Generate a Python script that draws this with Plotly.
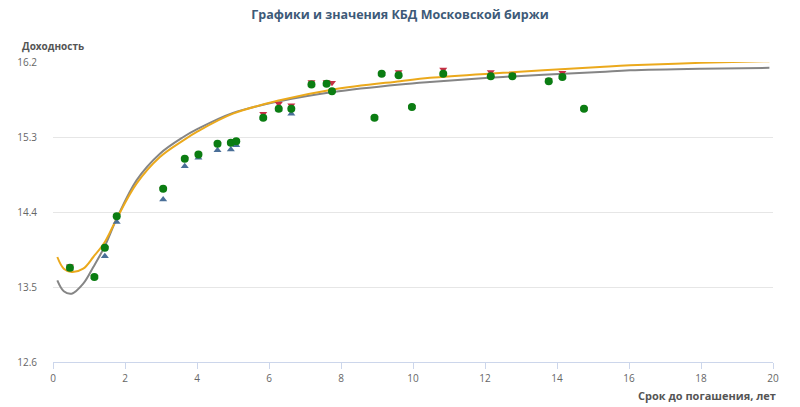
import plotly.graph_objects as go

# bond points: term (years) and yields for three price types
bond_term = [0.47, 1.15, 1.44, 1.77, 3.06, 3.66, 4.04, 4.57, 4.94, 5.09,
             5.84, 6.27, 6.62, 7.18, 7.60, 7.75, 8.93, 9.13, 9.60, 9.97,
             10.84, 12.16, 12.76, 13.77, 14.15, 14.75]
yield_green = [13.73, 13.62, 13.97, 14.35, 14.68, 15.04, 15.09, 15.22, 15.23, 15.25,
               15.53, 15.64, 15.64, 15.93, 15.94, 15.85, 15.53, 16.06, 16.04, 15.66,
               16.06, 16.03, 16.03, 15.97, 16.02, 15.64]
yield_red = [13.75, 13.62, 13.97, 14.35, 14.68, 15.04, 15.09, 15.22, 15.23, 15.25,
             15.58, 15.70, 15.68, 15.96, 15.96, 15.95, 15.53, 16.06, 16.08, 15.66,
             16.11, 16.08, 16.05, 15.98, 16.07, 15.64]
yield_blue = [13.72, 13.62, 13.87, 14.28, 14.55, 14.95, 15.05, 15.14, 15.15, 15.20,
              15.53, 15.63, 15.58, 15.93, 15.94, 15.85, 15.53, 16.06, 16.04, 15.66,
              16.06, 16.03, 16.03, 15.97, 16.02, 15.64]

# zero-coupon yield curves
curve_term = [0.12, 0.3, 0.52, 0.84, 1.12, 1.44, 1.77, 2.32, 2.97, 3.62, 4.03,
              5.0, 6.3, 7.78, 9.64, 10.47, 12.5, 15.19, 16.03, 18.0, 19.9]
curve_orange = [13.86, 13.72, 13.68, 13.72, 13.86, 14.04, 14.32, 14.74, 15.06, 15.26, 15.37,
                15.58, 15.74, 15.87, 15.97, 16.01, 16.07, 16.14, 16.16, 16.19, 16.21]
curve_gray = [13.58, 13.45, 13.42, 13.54, 13.74, 13.99, 14.32, 14.78, 15.10, 15.30, 15.40,
              15.59, 15.73, 15.84, 15.93, 15.96, 16.02, 16.08, 16.10, 16.12, 16.13]

y_ticks = [12.6, 13.5, 14.4, 15.3, 16.2]
x_ticks = [0, 2, 4, 6, 8, 10, 12, 14, 16, 18, 20]

font_family = "Open Sans, DejaVu Sans, sans-serif"

fig = go.Figure()

fig.add_trace(go.Scatter(
    x=curve_term, y=curve_gray, mode='lines',
    line=dict(color='#858585', width=2, shape='spline', smoothing=1),
    hoverinfo='skip'
))
fig.add_trace(go.Scatter(
    x=curve_term, y=curve_orange, mode='lines',
    line=dict(color='#eba91c', width=2, shape='spline', smoothing=1),
    hoverinfo='skip'
))
fig.add_trace(go.Scatter(
    x=bond_term, y=yield_blue, mode='markers',
    marker=dict(symbol='triangle-up', size=7, color='#4a6f98')
))
fig.add_trace(go.Scatter(
    x=bond_term, y=yield_red, mode='markers',
    marker=dict(symbol='triangle-down', size=7, color='#c62f45')
))
fig.add_trace(go.Scatter(
    x=bond_term, y=yield_green, mode='markers',
    marker=dict(symbol='circle', size=8, color='#0b7d12')
))

fig.update_layout(
    width=800, height=407,
    margin=dict(l=53, r=27, t=62, b=45),
    paper_bgcolor='white', plot_bgcolor='white',
    showlegend=False,
    font=dict(family=font_family, size=11, color='#666666'),
    title=dict(
        text='<b>Графики и значения КБД Московской биржи</b>',
        x=0.5, xanchor='center', y=0.965, yanchor='middle',
        font=dict(family=font_family, size=12.5, color='#3d5a78')
    ),
    xaxis=dict(
        range=[0, 20], tickvals=x_ticks, showgrid=False, zeroline=False,
        showline=True, linecolor='#ccd6eb', linewidth=1,
        ticks='outside', ticklen=6, tickcolor='#ccd6eb',
        ticklabelstandoff=1, automargin=False,
        tickfont=dict(size=10, color='#666666')
    ),
    yaxis=dict(
        range=[12.6, 16.2], tickvals=y_ticks, ticktext=[f"{v:.1f}" for v in y_ticks],
        showgrid=True, gridcolor='#e6e6e6', zeroline=False, showline=False,
        ticks='', ticklabelstandoff=15, automargin=False,
        tickfont=dict(size=10, color='#666666')
    ),
    annotations=[
        dict(text='<b>Доходность</b>', xref='paper', yref='paper',
             x=-0.046, y=1.055, xanchor='left', yanchor='middle', showarrow=False,
             font=dict(family=font_family, size=10, color='#555555')),
        dict(text='<b>Срок до погашения, лет</b>', xref='paper', yref='paper',
             x=1.007, y=-0.113, xanchor='right', yanchor='middle', showarrow=False,
             font=dict(family=font_family, size=11, color='#555555')),
    ]
)

fig.write_html("out.html", config={'displayModeBar': False},
               post_script="document.body.style.margin='0';")
